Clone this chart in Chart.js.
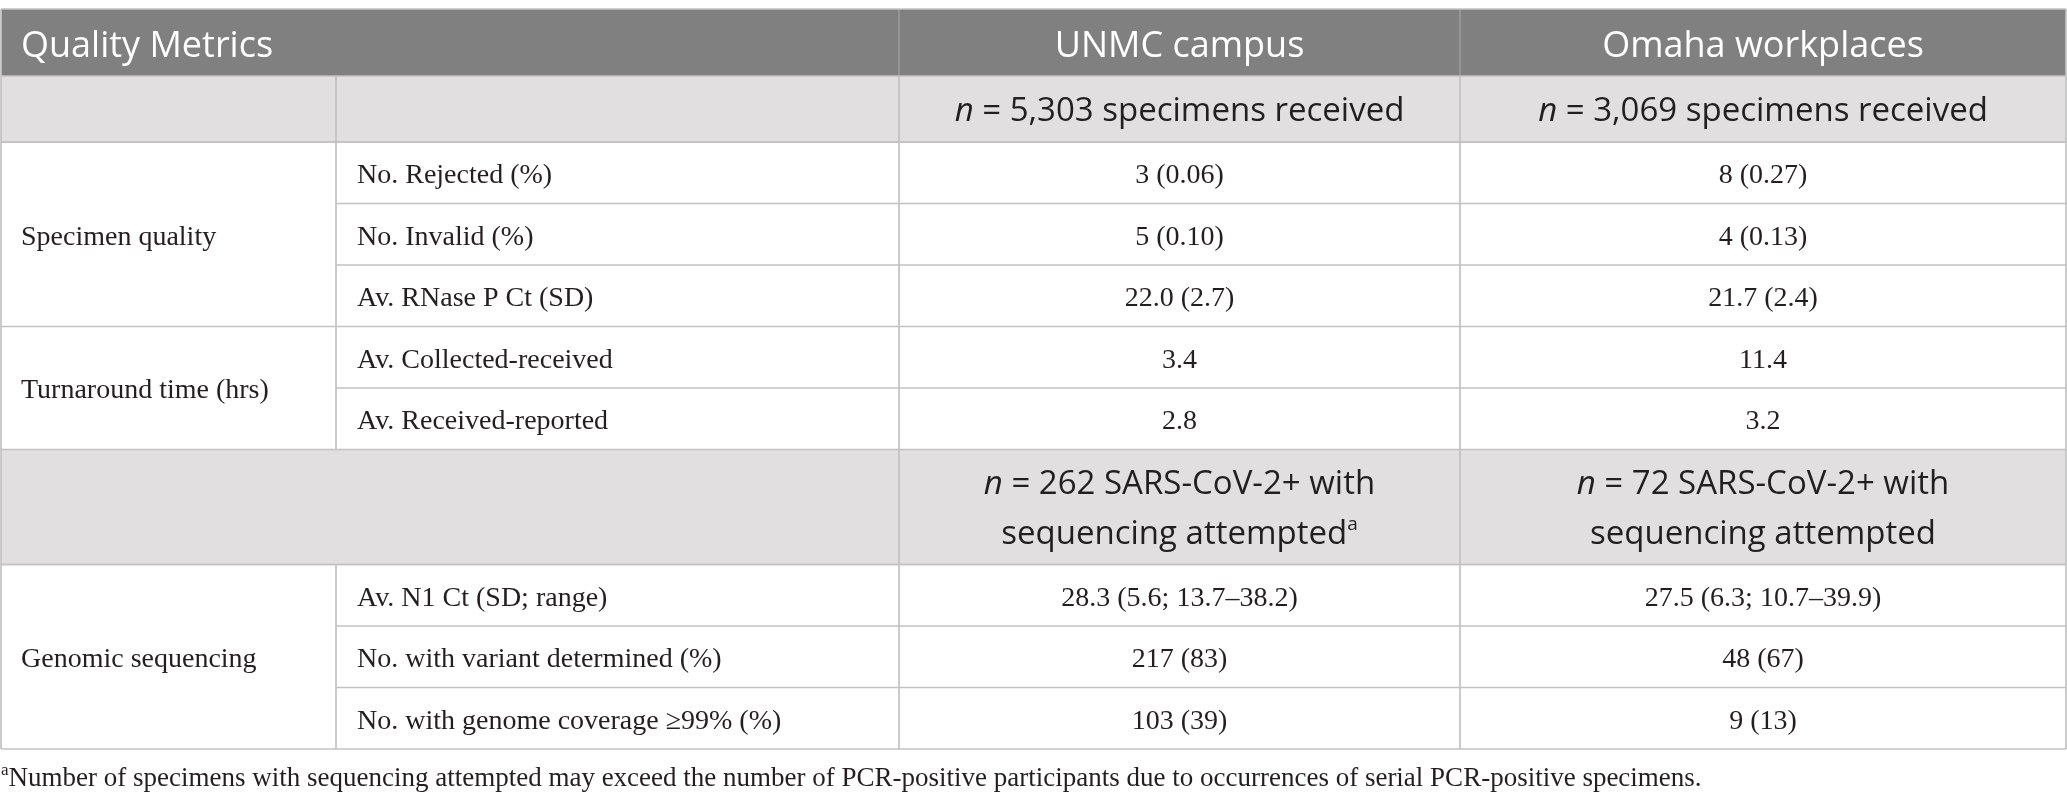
<!DOCTYPE html>
<html>
<head>
<meta charset="utf-8">
<script src="https://cdn.jsdelivr.net/npm/chart.js@4.4.0/dist/chart.umd.min.js"></script>
<style>
  html, body { margin: 0; padding: 0; background: #fff; }
  #wrap { width: 2067px; height: 805px; }
</style>
</head>
<body>
<div id="wrap"><canvas id="tableChart"></canvas></div>
<script>
// table content
const headerTitle = "Quality Metrics";
const sites = ["UNMC campus", "Omaha workplaces"];
const receivedCounts = ["5,303", "3,069"];
const sequencedCounts = ["262", "72"];
const groups = ["Specimen quality", "Turnaround time (hrs)", "Genomic sequencing"];
const groupSizes = [3, 2, 3];
const metrics = [
  "No. Rejected (%)", "No. Invalid (%)", "Av. RNase P Ct (SD)",
  "Av. Collected-received", "Av. Received-reported",
  "Av. N1 Ct (SD; range)", "No. with variant determined (%)", "No. with genome coverage \u226599% (%)"
];
const unmcValues = ["3 (0.06)", "5 (0.10)", "22.0 (2.7)", "3.4", "2.8", "28.3 (5.6; 13.7\u201338.2)", "217 (83)", "103 (39)"];
const omahaValues = ["8 (0.27)", "4 (0.13)", "21.7 (2.4)", "11.4", "3.2", "27.5 (6.3; 10.7\u201339.9)", "48 (67)", "9 (13)"];
const footnote = "Number of specimens with sequencing attempted may exceed the number of PCR-positive participants due to occurrences of serial PCR-positive specimens.";

// layout (in reference pixel units, mapped through the chart scales)
const colEdges = [1, 336, 899, 1460, 2066];
const tableTop = 9, headBottom = 76, nRowBottom = 142;
const rowH = 61.5, seqRowH = 115;

const SANS = '"Open Sans", "Noto Sans", sans-serif';
const SERIF = '"Liberation Serif", "DejaVu Serif", serif';
const ink = '#231f20';
const lineCol = '#c2c2c2';

// row tops for metric rows; the sequencing header row sits after the turnaround group
const rowTops = [];
let yy = nRowBottom;
metrics.forEach((m, i) => {
  if (i === 5) yy += seqRowH;
  rowTops.push(yy);
  yy += rowH;
});
const seqTop = rowTops[4] + rowH, seqBottom = seqTop + seqRowH;
const tableBottom = yy;

function drawRuns(ctx, runs, x, y, align) {
  let total = 0;
  runs.forEach(r => { ctx.font = r.font; r.w = ctx.measureText(r.text).width; total += r.w; });
  let cx = align === 'center' ? x - total / 2 : x;
  ctx.textAlign = 'left';
  ctx.textBaseline = 'middle';
  runs.forEach(r => {
    ctx.font = r.font;
    ctx.fillText(r.text, cx, y + (r.dy || 0));
    cx += r.w;
  });
}

const tablePlugin = {
  id: 'tablePlugin',
  beforeDatasetsDraw(chart) {
    const ctx = chart.ctx;
    const sx = chart.scales.x, sy = chart.scales.y;
    const px = v => sx.getPixelForValue(v);
    const py = v => sy.getPixelForValue(v);
    const rect = (x0, y0, x1, y1, c) => {
      ctx.fillStyle = c;
      ctx.fillRect(px(x0), py(y0), px(x1) - px(x0), py(y1) - py(y0));
    };
    const hline = (x0, x1, y, c) => {
      ctx.strokeStyle = c || lineCol; ctx.lineWidth = 1.7;
      ctx.beginPath(); ctx.moveTo(px(x0), py(y)); ctx.lineTo(px(x1), py(y)); ctx.stroke();
    };
    const vline = (x, y0, y1, c) => {
      ctx.strokeStyle = c || lineCol; ctx.lineWidth = 1.7;
      ctx.beginPath(); ctx.moveTo(px(x), py(y0)); ctx.lineTo(px(x), py(y1)); ctx.stroke();
    };
    ctx.save();
    const L = colEdges[0], R = colEdges[4];

    // backgrounds
    rect(L, tableTop, R, headBottom, '#7f807f');
    rect(L, headBottom, R, nRowBottom, '#e1dfe0');
    rect(L, seqTop, R, seqBottom, '#e1dfe0');

    // vertical lines
    vline(colEdges[2], tableTop, headBottom, '#9a9a9a');
    vline(colEdges[3], tableTop, headBottom, '#9a9a9a');
    vline(colEdges[1], headBottom, seqTop);
    vline(colEdges[1], seqBottom, tableBottom);
    vline(colEdges[2], headBottom, tableBottom);
    vline(colEdges[3], headBottom, tableBottom);
    vline(L, tableTop, tableBottom);
    vline(R, tableTop, tableBottom);

    // horizontal lines
    hline(L, R, tableTop);
    hline(L, R, headBottom);
    hline(L, R, nRowBottom);
    let gi = 0;
    let groupStart = 0;
    metrics.forEach((m, i) => {
      const top = rowTops[i];
      const startsGroup = i === groupStart;
      hline(startsGroup ? L : colEdges[1], R, top);
      if (startsGroup) { groupStart += groupSizes[gi]; gi++; }
    });
    hline(L, R, seqTop);
    hline(L, R, seqBottom);
    hline(L, R, tableBottom);

    // header text
    ctx.fillStyle = '#ffffff';
    const headMid = (tableTop + headBottom) / 2 + 4;
    drawRuns(ctx, [{ text: headerTitle, font: '36px ' + SANS }], px(L + 20), py(headMid), 'left');
    sites.forEach((s, k) => {
      const cx = px((colEdges[k + 2] + colEdges[k + 3]) / 2);
      drawRuns(ctx, [{ text: s, font: '36px ' + SANS }], cx, py(headMid), 'center');
    });

    // n rows
    ctx.fillStyle = ink;
    receivedCounts.forEach((n, k) => {
      const cx = px((colEdges[k + 2] + colEdges[k + 3]) / 2);
      drawRuns(ctx, [
        { text: 'n', font: 'italic 33px ' + SANS },
        { text: ' = ' + n + ' specimens received', font: '33px ' + SANS }
      ], cx, py((headBottom + nRowBottom) / 2 + 3), 'center');
    });
    sequencedCounts.forEach((n, k) => {
      const cx = px((colEdges[k + 2] + colEdges[k + 3]) / 2);
      const mid = (seqTop + seqBottom) / 2 + 3;
      drawRuns(ctx, [
        { text: 'n', font: 'italic 33px ' + SANS },
        { text: ' = ' + n + ' SARS-CoV-2+ with', font: '33px ' + SANS }
      ], cx, py(mid - 25), 'center');
      const line2 = [{ text: 'sequencing attempted', font: '33px ' + SANS }];
      if (k === 0) line2.push({ text: 'a', font: '19px ' + SANS, dy: -10 });
      drawRuns(ctx, line2, cx, py(mid + 25), 'center');
    });

    // group labels
    let start = 0;
    groups.forEach((g, k) => {
      const y0 = rowTops[start], y1 = rowTops[start + groupSizes[k] - 1] + rowH;
      drawRuns(ctx, [{ text: g, font: '28px ' + SERIF }], px(L + 20), py((y0 + y1) / 2 + 3), 'left');
      start += groupSizes[k];
    });

    // metric rows
    metrics.forEach((m, i) => {
      const cy = py(rowTops[i] + rowH / 2 + 3);
      drawRuns(ctx, [{ text: m, font: '28px ' + SERIF }], px(colEdges[1] + 21), cy, 'left');
      drawRuns(ctx, [{ text: unmcValues[i], font: '28px ' + SERIF }], px((colEdges[2] + colEdges[3]) / 2), cy, 'center');
      drawRuns(ctx, [{ text: omahaValues[i], font: '28px ' + SERIF }], px((colEdges[3] + colEdges[4]) / 2), cy, 'center');
    });

    // footnote
    drawRuns(ctx, [
      { text: 'a', font: '17px ' + SERIF, dy: -8 },
      { text: footnote, font: '27px ' + SERIF }
    ], px(L), py(tableBottom + 30), 'left');

    ctx.restore();
  }
};

new Chart(document.getElementById('tableChart'), {
  type: 'scatter',
  data: { datasets: [] },
  options: {
    responsive: true,
    maintainAspectRatio: false,
    animation: false,
    layout: { padding: 0 },
    plugins: { legend: { display: false }, tooltip: { enabled: false } },
    scales: {
      x: { type: 'linear', display: false, min: 0, max: 2067 },
      y: { type: 'linear', display: false, min: 0, max: 805, reverse: true }
    }
  },
  plugins: [tablePlugin]
});
</script>
</body>
</html>
